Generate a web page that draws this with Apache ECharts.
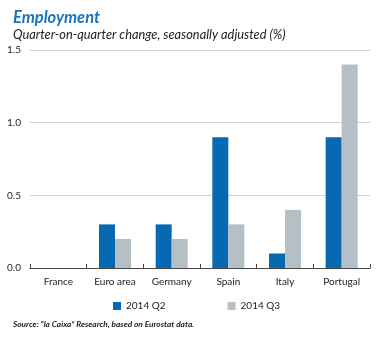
<!DOCTYPE html>
<html><head><meta charset="utf-8">
<script src="https://cdn.jsdelivr.net/npm/echarts@6/dist/echarts.min.js"></script>
<style>html,body{margin:0;padding:0;background:#fff}#c{width:381px;height:338px}</style>
</head><body><div id="c"></div>
<script>
const categories = ["France", "Euro area", "Germany", "Spain", "Italy", "Portugal"];
const q2 = [0.0, 0.3, 0.3, 0.9, 0.1, 0.9];
const q3 = [0.0, 0.2, 0.2, 0.3, 0.4, 1.4];
const seriesNames = ["2014 Q2", "2014 Q3"];
const yTicks = [0, 0.5, 1.0, 1.5];

const FONT = "Lato";
const chart = echarts.init(document.getElementById('c'), null, {renderer: 'canvas'});
chart.setOption({
  animation: false,
  textStyle: {fontFamily: FONT},
  title: [
    {text: "Employment", left: 8, top: 4, textStyle: {fontFamily: FONT, fontSize: 16.5, fontWeight: 'bold', fontStyle: 'italic', color: '#1a74bb'}},
    {text: "Quarter-on-quarter change, seasonally adjusted (%)", left: 8, top: 23, textStyle: {fontFamily: FONT, fontSize: 12.8, fontWeight: 'normal', fontStyle: 'italic', color: '#222'}},
    {text: "{b|Source:} “la Caixa” Research, based on Eurostat data.", left: 8, top: 315, textStyle: {fontFamily: FONT, fontSize: 8.3, fontStyle: 'italic', color: '#222', rich: {b: {fontFamily: FONT, fontSize: 8.3, fontWeight: 'bold', fontStyle: 'italic', color: '#222'}}}}
  ],
  legend: {
    data: seriesNames, top: 296, left: 108, itemGap: 62, itemWidth: 8, itemHeight: 8,
    icon: 'rect', textStyle: {fontFamily: FONT, fontSize: 10, color: '#222'}
  },
  grid: {left: 30, right: 11, top: 50, bottom: 70, containLabel: false},
  xAxis: {
    type: 'category', data: categories,
    axisLine: {lineStyle: {color: '#444', width: 1}},
    axisTick: {show: true, alignWithLabel: false, length: 4, inside: true, lineStyle: {color: '#444'}},
    axisLabel: {fontFamily: FONT, fontSize: 10, color: '#222', margin: 9}
  },
  yAxis: {
    type: 'value', min: 0, max: 1.5, interval: 0.5,
    axisLine: {show: false}, axisTick: {show: false},
    axisLabel: {fontFamily: FONT, fontSize: 10, color: '#222', margin: 9, formatter: v => v.toFixed(1)},
    splitLine: {lineStyle: {color: '#cfd3d6', width: 1}}
  },
  series: [
    {name: seriesNames[0], type: 'bar', data: q2, barWidth: 16, barGap: '0%', itemStyle: {color: '#0869b3'}},
    {name: seriesNames[1], type: 'bar', data: q3, barWidth: 16, barGap: '0%', itemStyle: {color: '#b4c0c6'}}
  ]
});
</script></body></html>
